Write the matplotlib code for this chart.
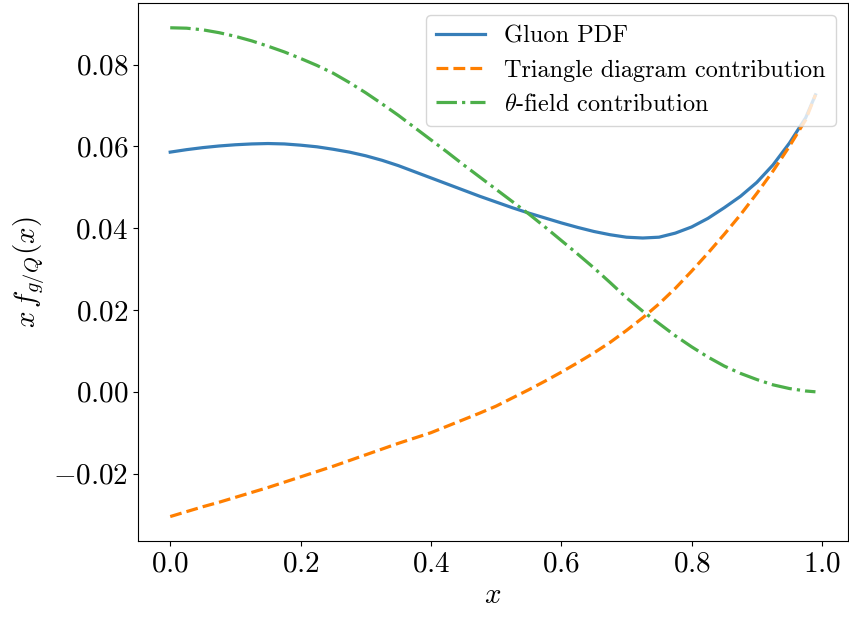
import matplotlib
matplotlib.use("Agg")
import matplotlib.pyplot as plt

# values
x = [0.0, 0.025, 0.05, 0.075, 0.1, 0.125, 0.15, 0.175, 0.2, 0.225,
     0.25, 0.275, 0.3, 0.325, 0.35, 0.375, 0.4, 0.425, 0.45, 0.475,
     0.5, 0.525, 0.55, 0.575, 0.6, 0.625, 0.65, 0.675, 0.7, 0.725,
     0.75, 0.775, 0.8, 0.825, 0.85, 0.875, 0.9, 0.925, 0.95, 0.975, 0.99]
gluon = [0.0586, 0.0592, 0.0597, 0.0601, 0.0604, 0.0606, 0.0607, 0.0606, 0.0603, 0.0599,
         0.0593, 0.0586, 0.0577, 0.0566, 0.0553, 0.0538, 0.0523, 0.0508, 0.0493, 0.0478,
         0.0464, 0.0450, 0.0437, 0.0425, 0.0413, 0.0402, 0.0392, 0.0384, 0.0378, 0.0376,
         0.0378, 0.0388, 0.0403, 0.0424, 0.0450, 0.0478, 0.0512, 0.0555, 0.0608, 0.0670, 0.0726]
triangle = [-0.0305, -0.0293, -0.0281, -0.0270, -0.0258, -0.0246, -0.0234, -0.0221, -0.0208, -0.0195,
            -0.0182, -0.0168, -0.0154, -0.0140, -0.0126, -0.0113, -0.0100, -0.0084, -0.0068, -0.0052,
            -0.0035, -0.0015, 0.0005, 0.0026, 0.0048, 0.0071, 0.0095, 0.0121, 0.0150, 0.0181,
            0.0215, 0.0253, 0.0295, 0.0339, 0.0385, 0.0433, 0.0485, 0.0540, 0.0600, 0.0665, 0.0726]
theta = [0.0890, 0.0889, 0.0885, 0.0878, 0.0869, 0.0858, 0.0845, 0.0831, 0.0815, 0.0798,
         0.0779, 0.0756, 0.0731, 0.0704, 0.0676, 0.0646, 0.0616, 0.0586, 0.0555, 0.0525,
         0.0495, 0.0465, 0.0435, 0.0403, 0.0370, 0.0337, 0.0303, 0.0267, 0.0230, 0.0197,
         0.0167, 0.0137, 0.0110, 0.0085, 0.0063, 0.0045, 0.0030, 0.0017, 0.0008, 0.0002, 0.0000]

plt.rcParams["font.family"] = "serif"
plt.rcParams["font.serif"] = ["cmr10"]
plt.rcParams["mathtext.fontset"] = "cm"
plt.rcParams["axes.formatter.use_mathtext"] = True

fig = plt.figure(figsize=(8.49, 6.18), dpi=100)
ax = fig.add_axes([0.1625, 0.1246, 0.836, 0.870])

ax.plot(x, gluon, color="#377eb8", lw=2.3, label="Gluon PDF")
ax.plot(x, triangle, color="#ff7f00", lw=2.3, ls="--", label="Triangle diagram contribution")
ax.plot(x, theta, color="#4daf4a", lw=2.3, ls="-.", label=r"$\theta$-field contribution")

ax.set_xticks([0.0, 0.2, 0.4, 0.6, 0.8, 1.0])
ax.set_yticks([-0.02, 0.0, 0.02, 0.04, 0.06, 0.08])
ax.tick_params(labelsize=21)
ax.set_xlabel(r"$x$", fontsize=21)
ax.set_ylabel(r"$x\,f_{g/Q}(x)$", fontsize=21)
ax.legend(loc="upper right", fontsize=17.5)

fig.savefig("out.png", dpi=100)
